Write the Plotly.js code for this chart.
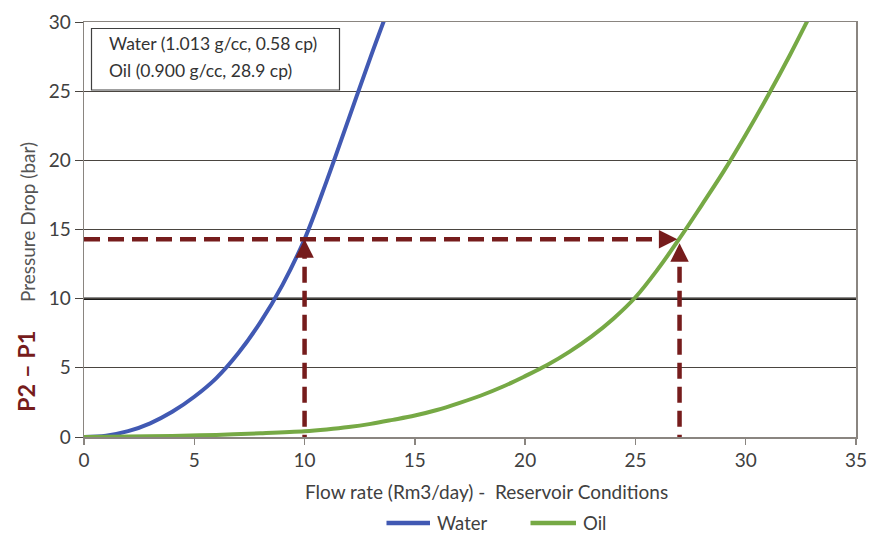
<!DOCTYPE html>
<html>
<head>
<meta charset="utf-8">
<script src="https://cdn.plot.ly/plotly-3.0.1.min.js"></script>
<style>
  html, body { margin: 0; padding: 0; background: #ffffff; }
  #chart { width: 875px; height: 533px; }
</style>
</head>
<body>
<div id="chart"></div>
<script>
// ---- data ----
const waterFlow = [0, 1, 2, 3, 4, 5, 6, 7, 8, 9, 10, 11, 12, 13, 13.6];
const waterDp   = [0, 0.1, 0.42, 0.99, 1.82, 2.91, 4.26, 6.07, 8.3, 11.0, 14.3, 18.5, 23.0, 27.5, 30.1];

const oilFlow = [0, 2, 4, 6, 8, 10, 11, 12, 13, 14, 15, 16, 17, 18, 19, 20, 21, 22, 23, 24, 25, 26, 27, 28, 29, 30, 31, 32, 32.8];
const oilDp   = [0, 0.03, 0.08, 0.15, 0.27, 0.42, 0.55, 0.72, 0.95, 1.24, 1.55, 1.95, 2.45, 3.0, 3.65, 4.4, 5.2, 6.15, 7.25, 8.55, 10.1, 12.1, 14.35, 16.75, 19.2, 21.85, 24.65, 27.6, 30.1];

// guide arrows: flow rates read at the matched pressure drop
const arrowFlow  = [10, 27];
const arrowTopDp = [14.3, 14.0];
const guideDp    = 14.3;
const guideEndFlow = 26.9;
const refLineDp  = 10;

const xTicks = [0, 5, 10, 15, 20, 25, 30, 35];
const yTicks = [0, 5, 10, 15, 20, 25, 30];

const boxText = ['Water (1.013 g/cc, 0.58 cp)', 'Oil (0.900 g/cc, 28.9 cp)'];
const seriesNames = ['Water', 'Oil'];
const seriesColors = ['#4159b3', '#76a945'];

// ---- styling ----
const arrowColor = '#761c1c';
const dashStyle = '16px,8px';
const fontFam = 'Lato, "Open Sans", sans-serif';
const textCol = '#404040';

const M = { l: 84, r: 19, t: 22, b: 96 };
const plotH = 533 - M.t - M.b;
const plotW = 875 - M.l - M.r;
const yPerPx = 30 / plotH;
const xPerPx = 35 / plotW;
const headLen = 11;                // px
const px2paperX = px => (px - M.l) / plotW;
const px2paperY = py => (533 - M.b - py) / plotH;

const traces = [
  {
    x: waterFlow, y: waterDp, name: seriesNames[0], mode: 'lines',
    line: { color: seriesColors[0], width: 4, shape: 'spline', smoothing: 1 },
    hoverinfo: 'skip', showlegend: false
  },
  {
    x: oilFlow, y: oilDp, name: seriesNames[1], mode: 'lines',
    line: { color: seriesColors[1], width: 4, shape: 'spline', smoothing: 1 },
    hoverinfo: 'skip', showlegend: false
  },
  // horizontal dashed guide
  {
    x: [0, guideEndFlow - headLen * xPerPx], y: [guideDp, guideDp], mode: 'lines', showlegend: false,
    line: { color: arrowColor, width: 4.5, dash: dashStyle }, hoverinfo: 'skip'
  }
];
arrowFlow.forEach((f, i) => {
  traces.push({
    x: [f, f], y: [-1, arrowTopDp[i] - headLen * yPerPx], mode: 'lines', showlegend: false,
    line: { color: arrowColor, width: 4.5, dash: dashStyle }, hoverinfo: 'skip'
  });
});

const annotations = [
  {
    xref: 'paper', yref: 'paper', x: px2paperX(27), y: px2paperY(222),
    xanchor: 'center', yanchor: 'middle', showarrow: false, textangle: -90,
    text: 'Pressure Drop (bar)',
    font: { family: fontFam, size: 19, color: '#555555' }
  },
  {
    xref: 'paper', yref: 'paper', x: px2paperX(26), y: px2paperY(372),
    xanchor: 'center', yanchor: 'middle', showarrow: false, textangle: -90,
    text: '<b>P2 – P1</b>',
    font: { family: fontFam, size: 23.5, color: arrowColor }
  },
  {
    xref: 'paper', yref: 'paper', x: px2paperX(486.5), y: px2paperY(491.5),
    xanchor: 'center', yanchor: 'middle', showarrow: false,
    text: 'Flow rate (Rm3/day) -  Reservoir Conditions',
    font: { family: fontFam, size: 19, color: textCol }
  },
  // arrowheads
  {
    x: guideEndFlow, y: guideDp, xref: 'x', yref: 'y',
    ax: -headLen - 2, ay: 0, axref: 'pixel', ayref: 'pixel',
    showarrow: true, arrowhead: 2, arrowsize: 0.82, arrowwidth: 4.5,
    arrowcolor: arrowColor, standoff: 0, text: ''
  }
];
arrowFlow.forEach((f, i) => {
  annotations.push({
    x: f, y: arrowTopDp[i], xref: 'x', yref: 'y',
    ax: 0, ay: headLen + 2, axref: 'pixel', ayref: 'pixel',
    showarrow: true, arrowhead: 2, arrowsize: 0.82, arrowwidth: 4.5,
    arrowcolor: arrowColor, standoff: 0, text: ''
  });
});

// info box lines
const boxLineY = [44, 70];
boxText.forEach((t, i) => {
  annotations.push({
    xref: 'paper', yref: 'paper', x: px2paperX(106.5), y: px2paperY(boxLineY[i]),
    xanchor: 'left', yanchor: 'middle', showarrow: false, text: t,
    font: { family: fontFam, size: 17.5, color: '#333333' }
  });
});

const shapes = [
  { type: 'line', xref: 'paper', yref: 'y', x0: 0, x1: 1, y0: refLineDp, y1: refLineDp,
    line: { color: '#1a1a1a', width: 2.5 }, layer: 'below' },
  { type: 'rect', xref: 'paper', yref: 'paper',
    x0: px2paperX(91.5), x1: px2paperX(339.5), y0: px2paperY(90), y1: px2paperY(28.5),
    line: { color: '#404040', width: 1.2 }, fillcolor: '#ffffff', layer: 'above' }
];

// custom legend (line samples + labels) below the axis title
const legendY = px2paperY(523);
const legendItems = [
  { x0: 386.5, x1: 430, tx: 435 },
  { x0: 530.5, x1: 576, tx: 581 }
];
legendItems.forEach((it, i) => {
  shapes.push({ type: 'line', xref: 'paper', yref: 'paper',
    x0: px2paperX(it.x0), x1: px2paperX(it.x1), y0: legendY, y1: legendY,
    line: { color: seriesColors[i], width: 4.5 } });
  annotations.push({ xref: 'paper', yref: 'paper', x: px2paperX(it.tx), y: legendY,
    xanchor: 'left', yanchor: 'middle', showarrow: false, text: seriesNames[i],
    font: { family: fontFam, size: 18.5, color: textCol } });
});

const layout = {
  width: 875, height: 533,
  margin: { l: M.l, r: M.r, t: M.t, b: M.b, pad: 0, autoexpand: false },
  paper_bgcolor: '#ffffff', plot_bgcolor: '#ffffff',
  font: { family: fontFam, color: textCol },
  showlegend: false,
  xaxis: {
    range: [0, 35], tickvals: xTicks, ticktext: xTicks.map(String),
    showgrid: false, zeroline: false,
    showline: true, linecolor: '#8a8580', linewidth: 1.5, mirror: true,
    ticks: 'outside', ticklen: 6, tickcolor: '#8a8580', tickwidth: 1.5,
    tickfont: { family: fontFam, size: 19, color: textCol },
    fixedrange: true
  },
  yaxis: {
    range: [0, 30], tickvals: yTicks, ticktext: yTicks.map(String),
    showgrid: true, gridcolor: '#4a4540', gridwidth: 1, zeroline: false,
    showline: true, linecolor: '#8a8580', linewidth: 1.5, mirror: true,
    ticks: 'outside', ticklen: 8, tickcolor: '#4a4540', tickwidth: 1,
    tickfont: { family: fontFam, size: 19, color: textCol },
    fixedrange: true
  },
  shapes: shapes,
  annotations: annotations
};

Plotly.newPlot('chart', traces, layout, { staticPlot: true, displayModeBar: false });
</script>
</body>
</html>
